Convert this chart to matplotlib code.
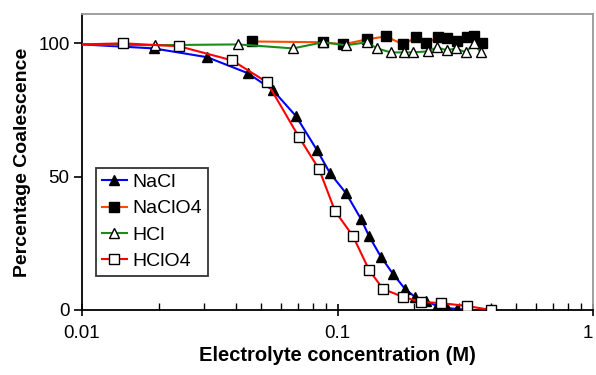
import matplotlib
matplotlib.use("Agg")
import matplotlib.pyplot as plt
from matplotlib.ticker import LogLocator, FixedLocator, NullFormatter, FixedFormatter

plt.rcParams['font.family'] = ['Liberation Sans', 'DejaVu Sans']

# NaCl
nacl_x = [0.01, 0.0191, 0.0309, 0.0446, 0.0559, 0.0688, 0.0832, 0.0935, 0.108, 0.1236,
          0.1329, 0.148, 0.165, 0.1838, 0.201, 0.222, 0.245, 0.268, 0.294, 0.321]
nacl_y = [99.6, 98.1, 94.8, 88.8, 82.4, 72.7, 59.9, 51.3, 43.8, 34.1,
          27.7, 19.9, 13.5, 7.9, 4.9, 3.4, 1.5, 0.7, 0.4, 0.0]

# NaClO4
naclo4_x = [0.0463, 0.0878, 0.1051, 0.1305, 0.1548, 0.1805, 0.2029, 0.222, 0.2474,
            0.268, 0.294, 0.321, 0.342, 0.368]
naclo4_y = [100.7, 100.4, 99.6, 101.5, 102.6, 99.6, 102.2, 100.0, 102.2,
            101.9, 100.7, 102.2, 102.6, 100.0]

# HCl
hcl_x = [0.01, 0.0193, 0.0408, 0.0670, 0.0878, 0.108, 0.1305, 0.1428, 0.162, 0.182,
         0.1975, 0.226, 0.245, 0.268, 0.291, 0.318, 0.342, 0.364]
hcl_y = [99.6, 99.3, 99.6, 98.1, 100.4, 99.3, 100.4, 98.1, 96.6, 96.6,
         96.6, 97.0, 98.5, 97.4, 98.1, 96.6, 100.0, 96.6]

# HClO4
hclo4_x = [0.01, 0.0145, 0.0240, 0.0387, 0.0530, 0.0707, 0.0847, 0.0978, 0.115, 0.1329,
           0.1507, 0.1805, 0.2123, 0.254, 0.321, 0.399]
hclo4_y = [99.6, 100.0, 98.9, 93.6, 85.4, 64.8, 52.8, 37.1, 27.7, 15.0,
           7.9, 4.9, 3.0, 2.6, 1.5, 0.0]

series_labels = ['NaCl', 'NaClO4', 'HCl', 'HClO4']
x_ticklabels = ['0.01', '0.1', '1']
y_ticks = [0, 50, 100]

fig = plt.figure(figsize=(5.96, 3.75), dpi=100)
ax = fig.add_axes([82/596, 1-310/375, (593-82)/596, (310-14)/375])

lw = 1.5
ax.plot(nacl_x, nacl_y, color='#0000ff', lw=lw, marker='^', ms=7.5, mfc='black', mec='black',
        markevery=slice(1, None), label=series_labels[0], zorder=3)
ax.plot(naclo4_x, naclo4_y, color='#ff4a00', lw=lw, marker='s', ms=6.5, mfc='black', mec='black',
        label=series_labels[1], zorder=3)
ax.plot(hcl_x, hcl_y, color='#1a8c1a', lw=lw, marker='^', ms=7.5, mfc='white', mec='black',
        markevery=slice(1, None), label=series_labels[2], zorder=4)
ax.plot(hclo4_x, hclo4_y, color='#ff0000', lw=lw, marker='s', ms=6.5, mfc='white', mec='black',
        markevery=slice(1, None), label=series_labels[3], zorder=4)

ax.set_xscale('log')
ax.set_xlim(0.01, 1)
ax.set_ylim(0, 111)

ax.xaxis.set_major_locator(FixedLocator([0.01, 0.1, 1]))
ax.xaxis.set_major_formatter(FixedFormatter(x_ticklabels))
ax.xaxis.set_minor_locator(LogLocator(base=10, subs=range(2, 10)))
ax.xaxis.set_minor_formatter(NullFormatter())
ax.set_yticks(y_ticks)
ax.set_yticklabels([str(v) for v in y_ticks])

ax.tick_params(axis='x', which='major', direction='inout', length=9, width=1.2, labelsize=13.5, pad=6)
ax.tick_params(axis='x', which='minor', direction='in', length=5, width=1.0)
ax.tick_params(axis='y', which='major', direction='out', length=6, width=1.2, labelsize=13.5, pad=3)
# keep the last x tick label inside the figure
ax.get_xticklabels()[-1].set_horizontalalignment('right')
ax.get_xticklabels()[-1].set_x(1)

for s in ['left', 'bottom']:
    ax.spines[s].set_color('black')
    ax.spines[s].set_linewidth(1.3)
for s in ['top', 'right']:
    ax.spines[s].set_color('#999999')
    ax.spines[s].set_linewidth(1.3)

ax.set_xlabel('Electrolyte concentration (M)', fontsize=14.5, fontweight='bold', labelpad=3)
ax.set_ylabel('Percentage Coalescence', fontsize=14, fontweight='bold', labelpad=5)

leg = ax.legend(loc='lower left', bbox_to_anchor=(0.027, 0.115), borderaxespad=0,
                fontsize=14, frameon=True, fancybox=False, edgecolor='black',
                handlelength=1.3, handletextpad=0.3, labelspacing=0.45, borderpad=0.3)
leg.get_frame().set_linewidth(1.3)

fig.savefig('out.png', dpi=100)
